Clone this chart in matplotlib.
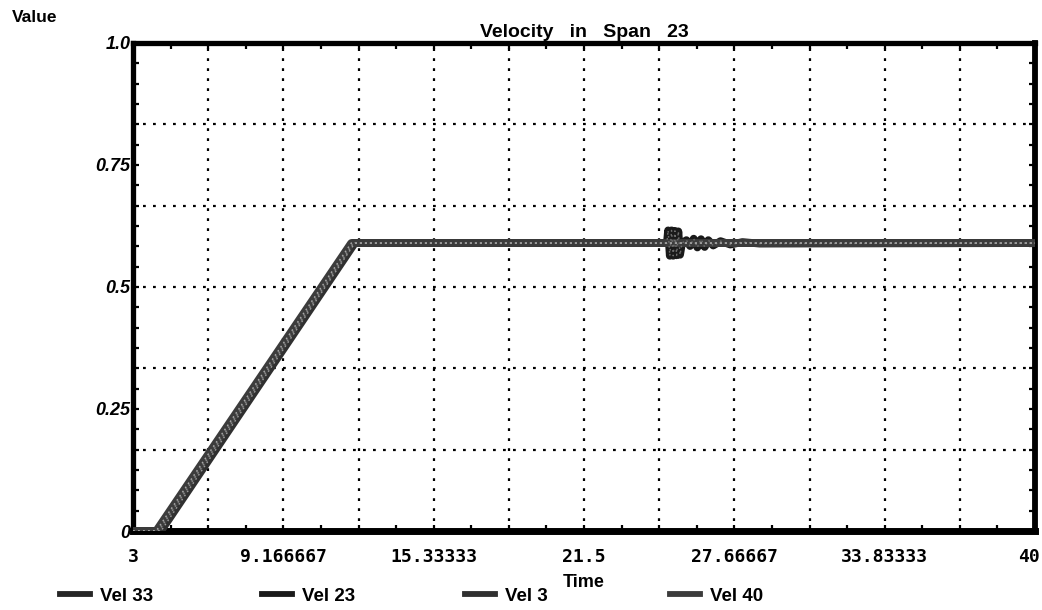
import numpy as np
import matplotlib
matplotlib.use("Agg")
import matplotlib.pyplot as plt
from matplotlib.lines import Line2D
from matplotlib.ticker import FixedLocator
from matplotlib.transforms import ScaledTranslation

plt.rcParams['font.family'] = ['Liberation Sans', 'DejaVu Sans']
plt.rcParams['lines.scale_dashes'] = False

# ---------------- data ----------------
series_names = ["Vel 33", "Vel 23", "Vel 3", "Vel 40"]

vel33_t = [3.0, 4.05, 12.05, 40.0]
vel33_v = [0.0, 0.0, 0.59, 0.59]

vel23_t = [3.0, 4.0, 12.0, 24.9, 24.95, 25.02, 25.09, 25.16, 25.23, 25.3, 25.37,
           25.44, 25.52, 25.7, 25.85, 26.0, 26.15, 26.3, 26.45, 26.6, 26.8,
           27.1, 27.5, 28.0, 28.7, 40.0]
vel23_v = [0.0, 0.0, 0.59, 0.59, 0.616, 0.564, 0.616, 0.564, 0.615, 0.565, 0.614,
           0.566, 0.59, 0.596, 0.584, 0.599, 0.581, 0.598, 0.582, 0.596, 0.585,
           0.594, 0.587, 0.592, 0.589, 0.59]

vel3_t = [3.0, 4.15, 12.1, 40.0]
vel3_v = [0.0, 0.0, 0.59, 0.59]

vel40_t = [3.0, 3.95, 11.95, 40.0]
vel40_v = [0.0, 0.0, 0.59, 0.59]

x_tick_values = [3, 9.166667, 15.33333, 21.5, 27.66667, 33.83333, 40]
x_tick_labels = ["3", "9.166667", "15.33333", "21.5", "27.66667", "33.83333", "40"]
y_tick_values = [0, 0.25, 0.5, 0.75, 1.0]
y_tick_labels = ["0", "0.25", "0.5", "0.75", "1.0"]

x_min, x_max = 3, 40
y_min, y_max = 0, 1.0

series_t = [vel33_t, vel23_t, vel3_t, vel40_t]
series_v = [vel33_v, vel23_v, vel3_v, vel40_v]

# ---------------- styling ----------------
line_colors = ['#262626', '#1a1a1a', '#303030', '#3c3c3c']
speck_colors = ['#8c8c8c', '#6e6e6e', '#9a9a9a', '#a8a8a8']

W, H = 1042, 610
fig = plt.figure(figsize=(W / 100, H / 100), dpi=100)
ax = fig.add_axes([133 / W, 1 - 531 / H, 902 / W, 488 / H])
ax.set_xlim(x_min, x_max)
ax.set_ylim(y_min, y_max)

# dotted grid: 12 columns, 6 rows
grid_kw = dict(color='black', lw=1.6, dashes=(2.0, 5.2), zorder=1)
for xv in np.linspace(x_min, x_max, 13)[1:-1]:
    ax.axvline(xv, **grid_kw)
for yv in np.linspace(y_min, y_max, 7)[1:-1]:
    ax.axhline(yv, **grid_kw)

# series
for t, v, c, sc in zip(series_t, series_v, line_colors, speck_colors):
    ax.plot(t, v, color=c, lw=5.6, solid_joinstyle='round',
            solid_capstyle='butt', zorder=3)
    ax.plot(t, v, color=sc, lw=1.0, dashes=(1.2, 2.4),
            dash_joinstyle='round', zorder=4)

# ticks
ax.set_xticks(x_tick_values, x_tick_labels)
ax.set_yticks(y_tick_values, y_tick_labels)
ax.xaxis.set_minor_locator(FixedLocator(np.linspace(x_min, x_max, 25)))
ax.yaxis.set_minor_locator(FixedLocator(np.linspace(y_min, y_max, 25)))
ax.tick_params(which='both', direction='in', top=True, right=True,
               length=4.5, width=1.6, color='black')
ax.tick_params(axis='x', pad=12)
ax.tick_params(axis='y', pad=2)
xlabels = ax.get_xticklabels()
for lab in xlabels:
    lab.set_fontfamily(['DejaVu Sans Mono'])
    lab.set_fontweight('bold')
    lab.set_fontsize(13)
xlabels[-1].set_horizontalalignment('right')
xlabels[-1].set_transform(xlabels[-1].get_transform() +
                          ScaledTranslation(5 / 100, 0, fig.dpi_scale_trans))
for lab in ax.get_yticklabels():
    lab.set_fontstyle('italic')
    lab.set_fontweight('bold')
    lab.set_fontsize(13)

for side, lw in [('top', 3.8), ('left', 3.8), ('right', 4.2), ('bottom', 5.0)]:
    ax.spines[side].set_linewidth(lw)
    ax.spines[side].set_color('black')

ax.set_title("Velocity   in   Span   23", fontsize=14, fontweight='bold', pad=4)
ax.set_xlabel("Time", fontsize=13, fontweight='bold', labelpad=6)
fig.text(12 / W, 1 - 18 / H, "Value", fontsize=12.5, fontweight='bold',
         ha='left', va='center')

# legend: one entry per series along the bottom
legend_x = [60, 262, 465, 670]
for name, c, sc, lx in zip(series_names, line_colors, speck_colors, legend_x):
    h = Line2D([], [], color=c, lw=4.2)
    fig.legend(handles=[h], labels=[name], loc='center left',
               bbox_to_anchor=(lx / W, 1 - 596 / H), frameon=False,
               borderpad=0, borderaxespad=0, handlelength=1.6,
               handletextpad=0.55, prop={'weight': 'bold', 'size': 13.5})

fig.savefig("out.png", dpi=100)
